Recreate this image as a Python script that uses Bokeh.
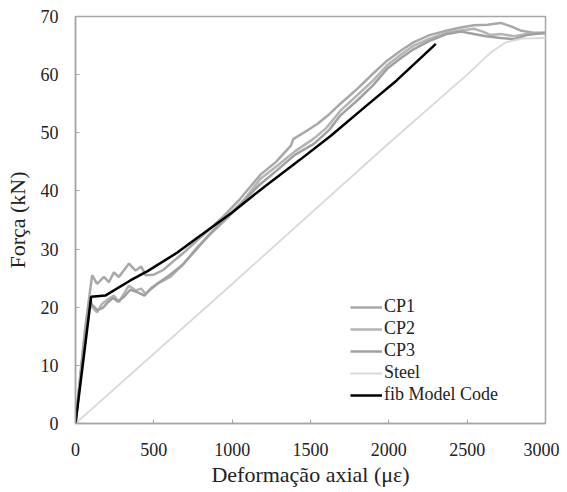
from bokeh.plotting import figure
from bokeh.models import Range1d, Legend, LegendItem, FixedTicker
from bokeh.embed import file_html
from bokeh.resources import INLINE

# ---- data ----
cp1_x = [0, 60, 106, 138, 181, 213, 245, 277, 341, 383, 420, 447, 500, 560, 620, 700, 780, 860,
         950, 1050, 1181, 1280, 1375, 1390, 1479, 1543, 1620, 1691, 1800, 1900, 1989, 2080, 2160,
         2260, 2372, 2460, 2543, 2630, 2713, 2780, 2840, 2920, 3000]
cp1_y = [0, 16, 25.5, 24.0, 25.2, 24.3, 26.0, 25.2, 27.5, 26.3, 27.0, 25.5, 25.6, 26.4, 27.8, 29.6,
         31.6, 33.5, 35.8, 38.6, 42.8, 45.0, 47.8, 48.9, 50.4, 51.5, 53.2, 55.0, 57.6, 60.2, 62.4,
         64.2, 65.6, 66.8, 67.6, 68.1, 68.5, 68.6, 68.9, 68.3, 67.6, 67.2, 67.2]

cp2_x = [0, 55, 95, 106, 138, 170, 210, 245, 277, 341, 383, 420, 447, 521, 606, 691, 777, 870, 980,
         1080, 1181, 1300, 1400, 1521, 1600, 1691, 1800, 1900, 1989, 2080, 2160, 2260, 2372, 2460,
         2543, 2600, 2650, 2713, 2800, 2880, 3000]
cp2_y = [0, 14, 21.5, 20.0, 19.1, 20.6, 21.4, 22.0, 20.9, 23.7, 22.9, 23.2, 22.3, 24.0, 25.2, 27.5,
         30.3, 32.8, 35.6, 38.6, 42.1, 44.6, 46.8, 49.0, 50.8, 53.8, 56.5, 59.0, 61.6, 63.5, 65.0,
         66.2, 67.2, 67.6, 67.9, 67.4, 66.8, 67.0, 66.6, 67.0, 67.1]

cp3_x = [0, 50, 88, 110, 140, 175, 205, 240, 270, 310, 350, 395, 440, 480, 530, 600, 680, 760, 850,
         960, 1060, 1181, 1280, 1400, 1521, 1620, 1691, 1800, 1900, 1989, 2080, 2160, 2260, 2372,
         2460, 2543, 2620, 2713, 2800, 2880, 3000]
cp3_y = [0, 13, 21.0, 20.3, 19.5, 19.9, 20.8, 21.6, 21.0, 21.8, 23.0, 22.6, 22.0, 23.2, 24.2, 25.5,
         27.2, 29.6, 32.4, 35.4, 38.0, 41.2, 43.4, 46.2, 48.1, 50.5, 53.0, 55.6, 58.2, 61.0, 62.9,
         64.4, 65.8, 67.0, 67.4, 67.0, 66.6, 66.3, 66.1, 66.8, 67.2]

steel_x = [0, 1000, 2000, 2500, 2650, 2750, 2850, 3000]
steel_y = [0, 24.0, 48.2, 60.0, 63.8, 65.6, 66.2, 66.3]

fib_x = [0, 100, 190, 350, 460, 650, 780, 1000, 1200, 1430, 1630, 1850, 2050, 2300]
fib_y = [0, 21.8, 22.0, 24.6, 26.2, 29.4, 32.0, 36.3, 40.6, 45.3, 49.5, 54.5, 59.0, 65.3]

x_ticks = [0, 500, 1000, 1500, 2000, 2500, 3000]
y_ticks = [0, 10, 20, 30, 40, 50, 60, 70]

FONT = "Times New Roman"
FRAME = "#a6a6a6"

p = figure(width=559, height=492, output_backend="svg", toolbar_location=None,
           x_range=Range1d(0, 3000), y_range=Range1d(0, 70),
           min_border_left=75, min_border_right=14, min_border_top=16, min_border_bottom=69)

p.xgrid.visible = False
p.ygrid.visible = False
p.outline_line_color = FRAME
p.outline_line_width = 1.5

r1 = p.line(cp1_x, cp1_y, line_color="#a8a8a8", line_width=2.5)
r2 = p.line(cp2_x, cp2_y, line_color="#b4b4b4", line_width=2.5)
r3 = p.line(cp3_x, cp3_y, line_color="#a0a0a0", line_width=2.5)
r4 = p.line(steel_x, steel_y, line_color="#d9d9d9", line_width=1.8)
r5 = p.line(fib_x, fib_y, line_color="#000000", line_width=2.5)

for ax, ticks in ((p.xaxis[0], x_ticks), (p.yaxis[0], y_ticks)):
    ax.ticker = FixedTicker(ticks=ticks)
    ax.minor_tick_line_color = None
    ax.major_tick_in = 4
    ax.major_tick_out = 0
    ax.major_tick_line_color = FRAME
    ax.axis_line_color = FRAME
    ax.axis_line_width = 1.5
    ax.major_label_text_font = FONT
    ax.major_label_text_font_size = "18px"
    ax.major_label_text_color = "#222222"
    ax.axis_label_text_font = FONT
    ax.axis_label_text_font_size = "22px"
    ax.axis_label_text_font_style = "normal"
    ax.axis_label_text_color = "#222222"

p.xaxis.axis_label = "Deformação axial (με)"
p.yaxis.axis_label = "Força (kN)"
p.xaxis.major_label_standoff = 19
p.yaxis.major_label_standoff = 17
p.xaxis.axis_label_standoff = 3
p.yaxis.axis_label_standoff = 8

legend = Legend(items=[
    LegendItem(label="CP1", renderers=[r1]),
    LegendItem(label="CP2", renderers=[r2]),
    LegendItem(label="CP3", renderers=[r3]),
    LegendItem(label="Steel", renderers=[r4]),
    LegendItem(label="fib Model Code", renderers=[r5]),
], location=(275, 18))
legend.label_text_font = FONT
legend.label_text_font_size = "18px"
legend.label_text_color = "#222222"
legend.glyph_width = 32
legend.glyph_height = 20
legend.label_height = 20
legend.label_standoff = 2
legend.spacing = 1
legend.padding = 0
legend.margin = 0
legend.border_line_color = None
legend.background_fill_alpha = 0
p.add_layout(legend, "center")

open("out.html", "w").write(file_html(p, INLINE))
